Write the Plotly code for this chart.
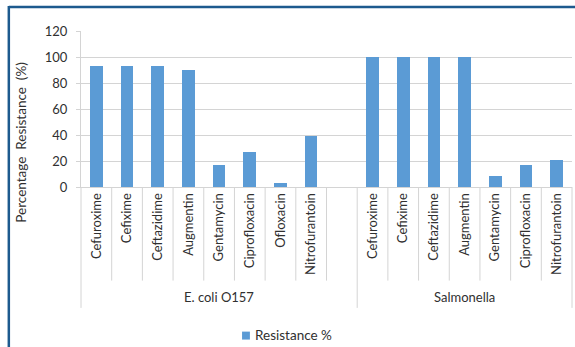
import plotly.graph_objects as go

# Resistance (%) by organism and antibiotic
groups = ["E. coli O157", "Salmonella"]
ecoli_drugs = ["Cefuroxime", "Cefixime", "Ceftazidime", "Augmentin",
               "Gentamycin", "Ciprofloxacin", "Ofloxacin", "Nitrofurantoin"]
ecoli_res = [93.3, 93.3, 93.3, 90.0, 16.7, 26.7, 3.3, 39.0]
salm_drugs = ["Cefuroxime", "Cefixime", "Ceftazidime", "Augmentin",
              "Gentamycin", "Ciprofloxacin", "Nitrofurantoin"]
salm_res = [100.0, 100.0, 100.0, 100.0, 8.3, 16.7, 20.8]
series_name = "Resistance %"
y_ticks = [0, 20, 40, 60, 80, 100, 120]

FONT = "Lato, Open Sans, sans-serif"
GRID = "#d4d4d4"
TXT = "#303030"
BAR = "#5b9bd5"

# slot layout: E. coli group carries one empty slot at its end
group_sizes = [len(ecoli_drugs) + 1, len(salm_drugs)]
n_slots = sum(group_sizes)
x_ecoli = list(range(len(ecoli_drugs)))
x_salm = [group_sizes[0] + i for i in range(len(salm_drugs))]

fig = go.Figure()
fig.add_trace(go.Bar(
    x=x_ecoli + x_salm,
    y=ecoli_res + salm_res,
    name=series_name,
    marker=dict(color=BAR, line=dict(width=0)),
    width=0.41,
    showlegend=False,
))

# category separators below the axis
shapes = []
starts = [0, group_sizes[0], n_slots]
for b in range(n_slots + 1):
    xp = b / n_slots
    is_group = b in starts
    shapes.append(dict(type="line", xref="paper", yref="paper",
                       x0=xp, x1=xp, y0=0, y1=-0.775 if is_group else -0.6,
                       line=dict(color=GRID, width=1)))

# outer frame
shapes.append(dict(type="line", xref="paper", yref="paper",
                   x0=-0.147, x1=1.02, y0=1.154, y1=1.154,
                   line=dict(color="#1d5a8e", width=2.5)))
shapes.append(dict(type="line", xref="paper", yref="paper",
                   x0=-0.147, x1=-0.147, y0=1.16, y1=-1.06,
                   line=dict(color="#1d5a8e", width=2.5)))

# series key below the chart
shapes.append(dict(type="rect", xref="paper", yref="paper",
                   x0=0.328, x1=0.344, y0=-0.978, y1=-0.927,
                   fillcolor=BAR, line=dict(width=0)))

annotations = []
offset = 0
for g, size in zip(groups, group_sizes):
    annotations.append(dict(text=g, xref="x", yref="paper",
                            x=offset + (size - 1) / 2, y=-0.705,
                            showarrow=False, xanchor="center", yanchor="middle",
                            font=dict(family=FONT, size=13, color=TXT)))
    offset += size
annotations.append(dict(text=series_name, xref="paper", yref="paper",
                        x=0.351, y=-0.951, showarrow=False,
                        xanchor="left", yanchor="middle",
                        font=dict(family=FONT, size=13.5, color=TXT)))
annotations.append(dict(text="Percentage&nbsp; Resistance&nbsp; (%)",
                        xref="paper", yref="paper", x=-0.124, y=0.285,
                        textangle=-90, showarrow=False,
                        xanchor="center", yanchor="middle",
                        font=dict(family=FONT, size=13.5, color=TXT)))

fig.update_layout(
    width=575, height=347,
    margin=dict(l=81, r=3, t=31, b=160),
    paper_bgcolor="white", plot_bgcolor="white",
    font=dict(family=FONT, size=13, color=TXT),
    bargap=0,
    showlegend=False,
    shapes=shapes,
    annotations=annotations,
    xaxis=dict(
        range=[-0.5, n_slots - 0.5],
        tickmode="array",
        tickvals=x_ecoli + x_salm,
        ticktext=ecoli_drugs + salm_drugs,
        tickangle=-90,
        ticks="",
        showgrid=False, zeroline=False,
        showline=True, linecolor=GRID, linewidth=1,
        tickfont=dict(family=FONT, size=13, color=TXT),
        fixedrange=True,
    ),
    yaxis=dict(
        range=[0, 120],
        tickmode="array", tickvals=y_ticks,
        ticks="outside", ticklen=4, tickcolor=GRID,
        ticklabelstandoff=6,
        showgrid=True, gridcolor=GRID, gridwidth=1,
        zeroline=False,
        showline=True, linecolor=GRID, linewidth=1,
        tickfont=dict(family=FONT, size=13, color=TXT),
        fixedrange=True,
    ),
)

fig.write_html("out.html")
